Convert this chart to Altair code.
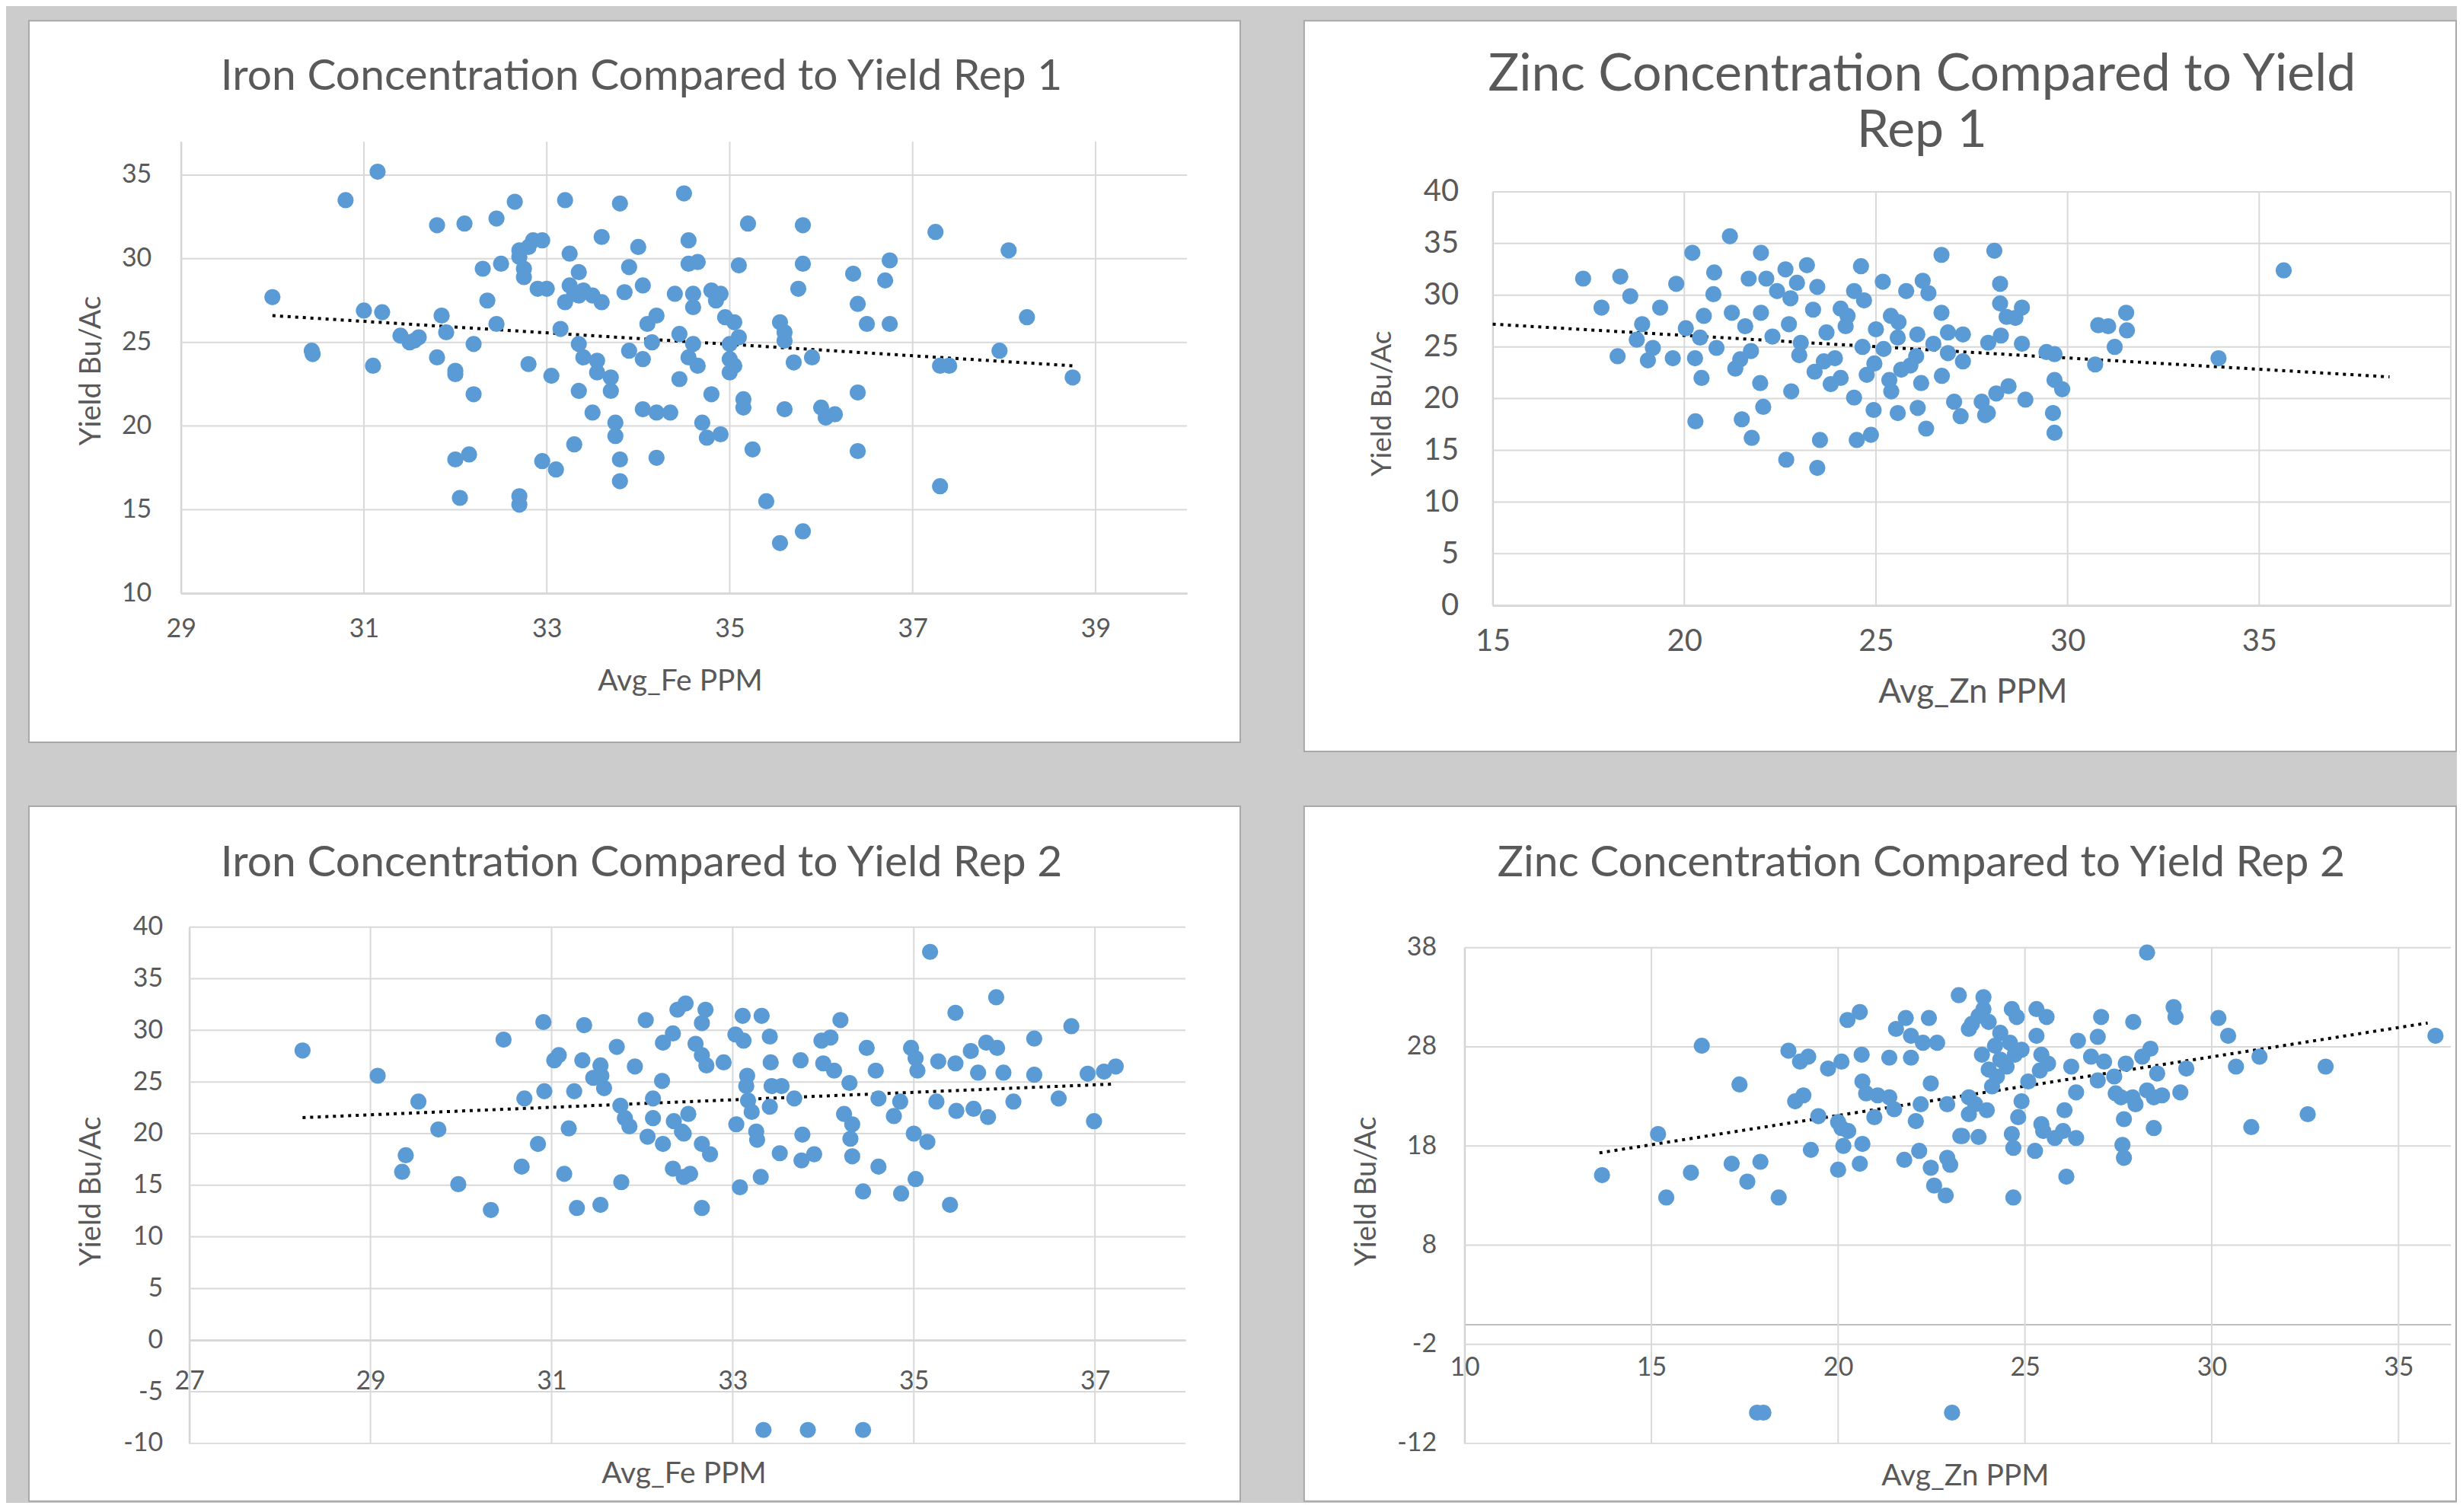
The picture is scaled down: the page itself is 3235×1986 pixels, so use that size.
import altair as alt
import pandas as pd

# ---------------- data ----------------
# Panel 1: Iron Rep 1
fe1_x = [30.0,30.43,30.44,30.8,31.15,31.0,31.2,31.1,31.4,31.5,31.6,31.55,31.8,32.1,32.45,31.85,31.9,31.8,32.0,32.0,
         32.2,32.0,32.15,32.05,32.2,32.35,32.3,32.45,32.5,32.65,32.7,32.7,32.75,32.75,32.8,32.85,32.9,32.7,32.7,32.8,
         32.95,32.95,33.0,33.05,33.1,33.2,33.2,33.15,33.25,33.25,33.3,33.35,33.35,33.35,33.3,33.35,33.4,33.4,33.5,33.5,
         33.55,33.6,33.55,33.6,33.7,33.7,33.75,33.8,33.75,33.8,33.8,33.85,33.9,33.9,34.0,34.05,34.1,34.05,34.05,34.15,
         34.2,34.2,34.2,34.35,34.4,34.45,34.45,34.5,34.55,34.55,34.6,34.6,34.65,34.6,34.55,34.65,34.7,34.75,34.8,34.8,
         34.85,34.9,34.9,34.95,35.0,35.0,35.0,35.05,35.05,35.1,35.1,35.15,35.15,35.2,35.25,35.4,35.55,35.55,35.6,35.6,
         35.6,35.7,35.75,35.8,35.8,35.8,35.9,36.0,36.05,36.15,36.35,36.4,36.4,36.4,36.5,36.7,36.75,36.75,37.25,37.3,
         37.4,37.3,38.05,37.95,38.25,38.75]
fe1_y = [27.7,24.5,24.3,33.5,35.2,26.9,26.8,23.6,25.4,25.0,25.3,25.1,32.0,32.1,32.4,26.6,25.6,24.1,23.3,23.1,
         21.9,18.0,18.3,15.7,24.9,27.5,29.4,26.1,29.7,33.4,30.5,30.1,28.9,29.4,30.7,31.1,28.2,15.8,15.3,23.7,
         17.9,31.1,28.2,23.0,17.4,33.5,27.4,25.8,30.3,28.4,27.9,29.2,27.8,22.1,18.9,24.9,24.1,28.1,27.8,20.8,
         23.9,31.3,23.2,27.4,22.9,22.1,19.4,33.3,20.2,18.0,16.7,28.0,29.5,24.5,30.7,28.4,26.1,21.0,24.0,25.0,
         20.8,26.6,18.1,20.8,27.9,22.8,25.5,33.9,31.1,29.7,27.1,27.9,29.8,24.9,24.1,23.6,20.2,19.3,21.9,28.1,
         27.5,27.9,19.5,26.5,24.9,24.0,23.2,23.6,26.2,25.3,29.6,21.6,21.1,32.1,18.6,15.5,13.0,26.2,25.6,25.1,
         21.0,23.8,28.2,32.0,29.7,13.7,24.1,21.1,20.5,20.7,29.1,27.3,22.0,18.5,26.1,28.7,26.1,29.9,31.6,23.6,
         23.6,16.4,30.5,24.5,26.5,22.9]
fe1_trend_x = [30.0, 38.75]
fe1_trend_y = [26.6, 23.6]

# Panel 2: Zinc Rep 1
zn1_x = [17.36,18.33,18.59,17.84,19.79,19.37,18.9,18.76,19.18,18.26,19.05,19.7,20.28,20.04,20.21,21.19,22.0,20.78,20.76,20.51,
         21.24,21.68,22.14,22.64,23.2,22.94,23.47,22.77,22.42,22.0,22.73,23.36,21.59,20.84,21.74,21.46,21.33,20.45,20.41,21.98,
         22.79,22.06,21.5,20.29,21.76,22.66,23.47,23.54,24.5,24.87,23.71,23.04,24.61,24.43,24.26,24.21,23.93,23.64,24.65,24.08,
         23.82,24.76,24.96,24.43,24.94,25.57,26.09,26.31,25.35,25.4,25.66,25.18,25.79,26.22,26.37,26.71,28.09,26.71,25.0,25.39,
         25.59,25.57,26.08,26.05,26.18,26.72,26.88,27.27,26.88,27.27,27.04,27.21,27.76,27.85,27.93,28.24,28.24,28.41,28.46,28.81,
         28.64,28.26,28.81,28.14,28.9,27.92,29.66,29.86,29.62,29.66,29.45,29.66,30.72,30.8,31.06,31.53,31.55,31.23,33.94,35.64,
         24.69,24.08,23.0,23.4,22.3,25.2,25.9,26.5]
zn1_y = [31.6,31.8,29.9,28.8,31.1,28.8,27.2,25.7,24.9,24.1,23.7,23.9,23.9,26.8,34.1,35.7,34.1,32.2,30.1,28.0,
         28.3,31.6,31.6,32.5,32.9,31.2,30.8,29.7,30.4,28.3,27.2,28.6,27.0,24.9,24.6,23.8,22.9,22.0,25.9,21.5,
         20.7,19.2,18.0,17.8,16.2,14.1,13.3,16.0,16.0,16.5,26.4,25.4,32.8,30.4,28.0,27.0,23.9,23.6,25.0,22.0,
         21.4,22.3,23.4,20.1,18.9,18.6,19.1,17.1,21.8,20.7,22.8,31.3,30.4,31.4,30.2,33.9,34.3,28.3,26.7,28.0,
         27.4,25.9,26.2,24.1,21.5,22.2,26.4,26.2,24.4,23.6,19.7,18.3,19.7,18.4,25.4,31.1,29.2,27.9,21.2,28.8,
         27.8,26.1,25.3,20.5,19.9,18.6,21.8,20.9,18.6,16.7,24.5,24.3,23.3,27.1,27.0,28.3,26.6,25.0,23.9,32.4,
         29.5,28.7,24.2,22.6,26.0,24.8,23.2,25.3]
zn1_trend_x = [15.0, 38.4]
zn1_trend_y = [27.2, 22.1]

# Panel 3: Iron Rep 2
fe2_x = [28.25,29.08,29.53,29.75,29.39,29.35,29.97,30.33,30.47,30.7,30.67,30.85,30.91,30.92,31.03,31.08,31.14,31.19,31.25,31.28,
         31.34,31.36,31.46,31.54,31.55,31.58,31.54,31.72,31.77,31.76,31.81,31.86,31.92,32.04,32.06,32.12,32.12,32.22,32.23,32.23,
         32.34,32.39,32.48,32.35,32.44,32.34,32.46,32.59,32.7,32.66,32.66,32.71,32.9,32.51,32.46,32.66,32.75,32.53,32.66,33.11,
         33.32,33.03,33.12,33.41,33.42,33.16,33.15,33.17,33.21,33.04,33.26,33.27,33.43,33.54,33.41,33.68,33.52,33.77,33.76,33.9,
         33.08,33.31,33.75,33.98,34.08,34.19,34.0,34.12,34.29,34.23,34.32,34.3,34.32,34.48,34.58,34.61,34.61,34.44,34.78,34.85,
         34.86,35.02,34.97,35.02,35.04,35.0,35.15,35.18,35.27,35.25,35.46,35.46,35.4,35.47,35.63,35.66,35.71,35.8,35.91,35.82,
         35.92,35.99,36.1,36.33,36.33,36.6,36.74,36.92,36.99,37.1,37.23,33.34,33.83,34.44]
fe2_y = [28.05,25.6,23.1,20.4,17.9,16.3,15.1,12.6,29.1,23.4,16.8,19.0,30.8,24.1,27.1,27.6,16.1,20.5,24.1,12.8,
         27.1,30.5,25.4,26.6,25.6,24.4,13.1,28.4,15.3,22.7,21.5,20.7,26.5,31.0,19.7,23.4,21.5,25.1,19.0,28.8,
         29.7,32.0,32.6,21.2,20.2,16.6,15.8,28.7,32.0,30.7,27.6,26.6,26.9,21.9,20.0,19.0,18.0,16.1,12.8,31.4,
         31.4,29.6,29.0,29.4,26.9,25.6,24.6,23.2,22.1,20.9,20.2,19.4,24.6,24.6,22.6,23.4,18.1,19.9,17.4,18.0,
         14.8,15.8,27.1,29.0,29.3,31.0,26.8,26.1,24.9,21.9,20.9,19.5,17.8,28.3,26.1,23.4,16.8,14.4,21.7,23.1,
         14.2,15.6,28.3,27.3,26.1,20.0,19.2,37.6,27.0,23.1,31.7,26.8,13.1,22.2,28.0,22.4,25.9,28.8,33.2,21.6,
         28.3,25.9,23.1,29.2,25.7,23.4,30.4,25.8,21.2,26.0,26.5,-8.7,-8.7,-8.7]
fe2_trend_x = [28.25, 37.2]
fe2_trend_y = [21.55, 24.8]

# Panel 4: Zinc Rep 2
zn2_x = [13.68,15.18,15.4,16.06,16.35,17.36,17.15,17.57,17.92,18.41,17.83,18.0,18.67,18.98,19.2,18.85,19.07,19.47,19.27,19.73,
         20.09,20.25,20.58,20.0,20.09,20.27,20.14,20.0,20.58,20.65,20.63,20.65,20.75,20.97,21.06,21.37,21.5,21.37,21.55,21.81,
         21.95,22.27,22.65,22.43,21.95,22.48,22.21,22.08,21.77,22.17,22.48,22.57,22.88,22.92,23.0,22.92,23.23,23.05,23.27,23.89,
         23.89,23.76,23.58,23.5,24.03,24.65,24.78,24.34,24.2,24.6,23.85,24.34,24.73,24.91,24.03,24.25,24.51,24.12,23.5,23.67,
         23.98,23.5,23.32,23.76,24.91,24.82,24.65,24.69,24.69,25.27,25.31,25.58,25.31,25.44,25.62,25.4,25.09,25.44,25.49,25.8,
         26.02,26.06,26.11,26.37,26.24,26.37,26.42,26.95,27.04,26.77,26.95,27.12,27.39,27.43,27.57,27.7,27.65,27.61,27.65,27.9,
         27.88,27.96,28.14,28.27,28.36,28.27,28.54,28.45,28.67,28.45,28.98,29.03,29.32,29.16,30.18,30.44,30.65,31.28,31.06,32.57,
         33.05,35.99]
zn2_y = [15.05,19.2,12.8,15.3,28.1,24.2,16.2,14.4,16.4,12.8,-8.9,-8.9,27.6,26.5,27.0,22.5,23.1,21.0,17.6,25.8,
         26.5,30.7,31.5,20.4,19.8,19.5,18.0,15.6,16.2,18.2,27.2,24.5,23.3,20.9,23.1,22.9,21.7,26.9,29.8,30.9,
         29.1,28.4,28.4,30.9,26.9,24.3,22.2,20.5,16.6,17.5,15.8,14.0,13.0,16.8,16.1,22.2,33.2,-8.9,19.0,33.0,
         31.8,31.1,30.3,29.8,30.5,31.8,31.0,29.4,28.1,28.4,27.2,26.7,27.2,27.7,25.7,25.0,26.0,24.0,22.9,22.2,
         21.6,21.2,19.0,18.9,22.5,20.9,19.2,17.8,12.8,17.5,31.8,31.0,29.1,27.2,26.3,25.6,24.5,20.2,19.5,18.8,
         19.5,21.6,14.9,18.8,26.0,23.4,28.6,29.0,31.0,27.0,24.6,26.5,25.0,23.3,22.9,26.3,20.7,18.1,16.8,30.5,
         22.9,22.2,27.0,37.5,27.8,23.6,25.3,22.9,23.1,19.8,32.0,31.0,25.8,23.4,30.9,29.1,26.0,27.0,19.9,21.2,
         26.0,29.1]
zn2_trend_x = [13.61, 35.78]
zn2_trend_y = [17.3, 30.4]

# axis ticks
fe1_xticks = [29, 31, 33, 35, 37, 39]
fe1_yticks = [10, 15, 20, 25, 30, 35]
zn1_xticks = [15, 20, 25, 30, 35, 40]
zn1_xlabels = [15, 20, 25, 30, 35]
zn1_yticks = [0, 5, 10, 15, 20, 25, 30, 35, 40]
fe2_xticks = [27, 29, 31, 33, 35, 37]
fe2_yticks = [-10, -5, 0, 5, 10, 15, 20, 25, 30, 35, 40]
zn2_xticks = [10, 15, 20, 25, 30, 35]
zn2_yticks = [-12, -2, 8, 18, 28, 38]

# ---------------- styling ----------------
BLUE = "#5B9BD5"
TEXT = "#595959"
GRID = "#d9d9d9"
AXISC = "#bfbfbf"
FONT = "Lato"
HYPHEN = "replace(datum.label, '\u2212', '-')"


def panel(xs, ys, tx, ty, title, xtitle, xdom, ydom, xticks, xlabels, yticks,
          card, plot, xaxis_at, fs):
    cw, ch = card                      # white card size
    left, top, right, bottom = plot    # plot area inside the card
    pts = pd.DataFrame({"x": xs, "y": ys})
    trend = pd.DataFrame({"x": tx, "y": ty})
    xscale = alt.Scale(domain=xdom, range=[left, right], nice=False, zero=False)
    yscale = alt.Scale(domain=ydom, range=[bottom, top], nice=False, zero=False)
    axis_pix = bottom - (xaxis_at - ydom[0]) / (ydom[1] - ydom[0]) * (bottom - top)
    xaxis = alt.Axis(values=xlabels, grid=False, ticks=False, domainColor=AXISC, domainWidth=2,
                     labelFont=FONT, labelFontSize=fs["tick"], labelColor=TEXT,
                     labelPadding=fs["xpad"], labelBaseline="middle", labelFlush=False,
                     labelOverlap=False, labelExpr=HYPHEN,
                     title=xtitle, titleFont=FONT, titleFontSize=fs["xt"],
                     titleFontWeight="normal", titleColor=TEXT, titleX=fs["xtx"], titleY=fs["xty"],
                     titleBaseline="middle", titleAlign="center", offset=axis_pix - ch)
    yaxis = alt.Axis(values=yticks, grid=False, ticks=False, domainColor=AXISC, domainWidth=2,
                     labelFont=FONT, labelFontSize=fs["tick"], labelColor=TEXT,
                     labelPadding=fs["ypad"], labelBaseline="middle", labelAlign="right",
                     labelFlush=False, labelOverlap=False, labelExpr=HYPHEN,
                     title="Yield Bu/Ac", titleFont=FONT,
                     titleFontSize=fs["yt"], titleFontWeight="normal", titleColor=TEXT,
                     titleX=fs["ytx"], titleY=fs["yty"], titleAngle=270, titleBaseline="middle",
                     titleAlign="center", offset=-left)
    X = alt.X("x:Q", scale=xscale, axis=xaxis)
    Y = alt.Y("y:Q", scale=yscale, axis=yaxis)

    vgrid = alt.Chart(pd.DataFrame({"x": xticks})).mark_rule(color=GRID, strokeWidth=2).encode(
        x=X, y=alt.value(top), y2=alt.value(bottom))
    hgrid = alt.Chart(pd.DataFrame({"y": yticks})).mark_rule(color=GRID, strokeWidth=2).encode(
        y=Y, x=alt.value(left), x2=alt.value(right))
    tline = alt.Chart(trend).mark_line(color="black", strokeWidth=4, strokeDash=[4, 6]).encode(x=X, y=Y)
    dots = alt.Chart(pts).mark_circle(size=450, color=BLUE, opacity=1).encode(x=X, y=Y)
    return alt.layer(vgrid, hgrid, tline, dots).properties(
        width=cw, height=ch,
        title=alt.TitleParams(text=title, font=FONT, fontSize=fs["title"], fontWeight="normal",
                              color=TEXT, anchor="middle", frame="group", baseline="bottom",
                              offset=fs["toff"], dx=fs["tdx"], lineHeight=fs["lh"]),
    )


p1 = panel(fe1_x, fe1_y, fe1_trend_x, fe1_trend_y, "Iron Concentration Compared to Yield Rep 1",
           "Avg_Fe PPM", [29, 40], [10, 37], fe1_xticks, fe1_xticks, fe1_yticks,
           (1593, 949), (200, 159, 1523, 753), 10,
           dict(tick=34, xt=39, yt=38, title=57, lh=74, xpad=47, ypad=39, xtx=856, xty=115,
                ytx=-117, yty=460, toff=-160, tdx=9))
p2 = panel(zn1_x, zn1_y, zn1_trend_x, zn1_trend_y, ["Zinc Concentration Compared to Yield", "Rep 1"],
           "Avg_Zn PPM", [15, 40], [0, 40], zn1_xticks, zn1_xlabels, zn1_yticks,
           (1515, 961), (248, 225, 1508, 769), 0,
           dict(tick=40, xt=44, yt=37, title=68, lh=74, xpad=47, ypad=45, xtx=879, xty=114,
                ytx=-145, yty=503, toff=-248, tdx=55))
p3 = panel(fe2_x, fe2_y, fe2_trend_x, fe2_trend_y, "Iron Concentration Compared to Yield Rep 2",
           "Avg_Fe PPM", [27, 38], [-10, 40], fe2_xticks, fe2_xticks, fe2_yticks,
           (1593, 914), (211, 159, 1521, 838), 0,
           dict(tick=34, xt=39, yt=38, title=57, lh=74, xpad=54, ypad=35, xtx=861, xty=175,
                ytx=-128, yty=506, toff=-161, tdx=9))
p4 = panel(zn2_x, zn2_y, zn2_trend_x, zn2_trend_y, "Zinc Concentration Compared to Yield Rep 2",
           "Avg_Zn PPM", [10, 36.4], [-12, 38], zn2_xticks, zn2_xticks, zn2_yticks,
           (1515, 914), (211, 186, 1508, 838), 0,
           dict(tick=34, xt=39, yt=38, title=57, lh=74, xpad=57, ypad=37, xtx=869, xty=199,
                ytx=-128, yty=506, toff=-161, tdx=54))

chart = alt.vconcat(
    alt.hconcat(p1, p2, spacing=82),
    alt.hconcat(p3, p4, spacing=82),
    spacing=70,
).properties(
    padding={"left": 29, "top": 17, "right": 0, "bottom": 0},
    background="#cccccc",
).configure_view(fill="white", stroke="#a8a8a8", strokeWidth=2)

chart.save("out.html", embed_options={"renderer": "svg", "actions": False})
